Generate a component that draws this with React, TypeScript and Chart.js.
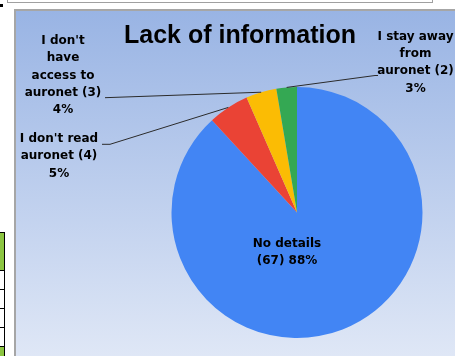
import React, { useEffect, useRef } from "react";
import { Chart, registerables } from "chart.js";

Chart.register(...registerables);

const titleText = "Lack of information";
const categories = ["No details", "I don't read auronet", "I don't have access to auronet", "I stay away from auronet"];
const counts = [67, 4, 3, 2];
const colors = ["#4285f4", "#ea4335", "#fbbc04", "#34a853"];
// wrapped name lines as shown in the picture
const wrappedNames = [["No details"], ["I don't read", "auronet"], ["I don't", "have", "access to", "auronet"], ["I stay away", "from", "auronet"]];

const total = counts.reduce((a, b) => a + b, 0);
const pct = (v: number) => Math.round((v / total) * 100);

function labelLines(i: number): string[] {
  const w = wrappedNames[i];
  if (i === 0) return [w[0], `(${counts[i]}) ${pct(counts[i])}%`];
  return [...w.slice(0, -1), `${w[w.length - 1]} (${counts[i]})`, `${pct(counts[i])}%`];
}

// label placement (canvas coords): center x, first line center y
const labelPos = [
  { x: 271, y: 233 },
  { x: 43, y: 128 },
  { x: 47, y: 30 },
  { x: 399.5, y: 25.5 },
];
// leader line start points (label side)
const leaderStart: (number[][] | null)[] = [
  null,
  [[86, 133.3], [94, 133.3]],
  [[89, 86.7]],
  [[362, 64.5], [359, 64.5]],
];

const labelPlugin = {
  id: "labels",
  afterDraw(chart: any) {
    const ctx = chart.ctx;
    ctx.save();
    // title
    ctx.fillStyle = "#000";
    ctx.textAlign = "center";
    ctx.textBaseline = "middle";
    ctx.font = "bold 25px 'Liberation Sans', Arial, sans-serif";
    ctx.fillText(titleText, 224, 25);
    const meta = chart.getDatasetMeta(0);
    meta.data.forEach((arc: any, i: number) => {
      const pts = leaderStart[i];
      if (pts) {
        const p = arc.getProps(["x", "y", "startAngle", "endAngle", "outerRadius"], true);
        const mid = (p.startAngle + p.endAngle) / 2;
        const ex = p.x + Math.cos(mid) * p.outerRadius;
        const ey = p.y + Math.sin(mid) * p.outerRadius;
        ctx.strokeStyle = "#2b2b2b";
        ctx.lineWidth = 1;
        ctx.beginPath();
        ctx.moveTo(pts[0][0], pts[0][1]);
        for (let k = 1; k < pts.length; k++) ctx.lineTo(pts[k][0], pts[k][1]);
        ctx.lineTo(ex, ey);
        ctx.stroke();
      }
      const lines = labelLines(i);
      ctx.font = "bold 12px 'DejaVu Sans', sans-serif";
      ctx.fillStyle = "#000";
      lines.forEach((t, k) => {
        ctx.fillText(t, labelPos[i].x, labelPos[i].y + k * 17.3);
      });
    });
    ctx.restore();
  },
};

export default function App() {
  const ref = useRef<HTMLCanvasElement>(null);
  useEffect(() => {
    document.body.style.margin = "0";
    const chart = new Chart(ref.current!, {
      type: "pie",
      data: {
        labels: categories,
        datasets: [{ data: counts, backgroundColor: colors, borderWidth: 0 }],
      },
      options: {
        animation: false,
        responsive: false,
        maintainAspectRatio: false,
        layout: { padding: { left: 155, right: 32, top: 76, bottom: 18 } },
        plugins: { legend: { display: false }, tooltip: { enabled: false }, title: { display: false } },
      },
      plugins: [labelPlugin],
    });
    return () => chart.destroy();
  }, []);

  const cellLines = [270, 289, 308, 327, 346];
  return (
    <div style={{ position: "fixed", left: 0, top: 0, width: 455, height: 356, background: "#fff", overflow: "hidden" }}>
      <div style={{ position: "absolute", left: 7, top: -2, width: 426, height: 5, border: "1px solid #a0a0a0", boxSizing: "border-box", background: "#fff" }} />
      <div style={{ position: "absolute", left: 0, top: 4, width: 3, height: 3, background: "#000" }} />
      <div style={{ position: "absolute", left: 0, top: 233, width: 4, height: 37, background: "#8cc541" }} />
      <div style={{ position: "absolute", left: 0, top: 346, width: 4, height: 10, background: "#8cc541" }} />
      <div style={{ position: "absolute", left: 4, top: 232, width: 1, height: 124, background: "#000" }} />
      <div style={{ position: "absolute", left: 0, top: 232, width: 5, height: 1, background: "#000" }} />
      {cellLines.map((y) => (
        <div key={y} style={{ position: "absolute", left: 0, top: y, width: 5, height: 1, background: "#000" }} />
      ))}
      <div
        style={{
          position: "absolute",
          left: 14,
          top: 9,
          width: 441,
          height: 347,
          borderLeft: "2px solid #a6a6a6",
          borderTop: "2px solid #a6a6a6",
          boxSizing: "border-box",
          background: "linear-gradient(#99b4e4, #dfe7f6)",
        }}
      >
        <canvas ref={ref} width={439} height={345} style={{ display: "block", width: 439, height: 345 }} />
      </div>
    </div>
  );
}
